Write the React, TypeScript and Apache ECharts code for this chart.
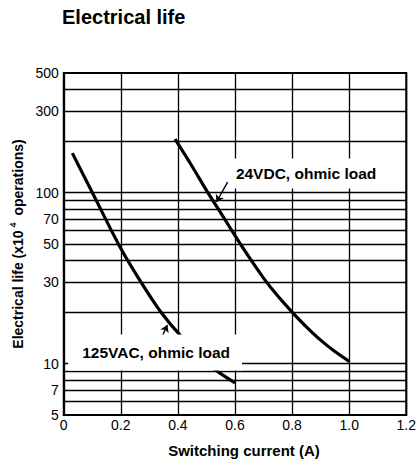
import React, { useEffect, useRef } from 'react';
import * as echarts from 'echarts';

const titleText = 'Electrical life';
const xAxisName = 'Switching current (A)';
const yAxisName = 'Electrical life (x10{sup|4} operations)';

const xMin = 0;
const xMax = 1.2;
const xInterval = 0.2;
const yMin = 5;
const yMax = 500;
const yLabelValues = [5, 7, 10, 30, 50, 70, 100, 300, 500];
const yGridValues = [6, 7, 8, 9, 10, 20, 30, 40, 50, 60, 70, 80, 90, 100, 200, 300, 400];

const vac125X = [0.03, 0.1, 0.2, 0.27, 0.34, 0.41, 0.52, 0.6];
const vac125Y = [170, 100, 47, 30, 20, 14.5, 9.5, 7.7];

const dc24X = [0.39, 0.45, 0.5, 0.55, 0.6, 0.65, 0.7, 0.75, 0.8, 0.85, 0.9, 0.95, 1.0];
const dc24Y = [205, 142, 103, 76, 56, 41.7, 31.6, 24.8, 20, 16.4, 13.7, 11.75, 10.3];

const dc24Label = '24VDC, ohmic load';
const dc24LabelAt = [0.849, 129];
const dc24Arrow = [[0.574, 115], [0.535, 88]];

const vac125Label = '125VAC, ohmic load';
const vac125LabelAt = [0.32, 11.6];
const vac125Arrow = [[0.343, 14.2], [0.363, 16.8]];

const FONT = "'Liberation Sans', Arial, sans-serif";
const NARROW = "'Liberation Sans Narrow', 'Liberation Sans', Arial, sans-serif";

function zip(xs: number[], ys: number[]) {
  return xs.map((x, i) => [x, ys[i]]);
}

export default function App() {
  const ref = useRef<HTMLDivElement>(null);
  useEffect(() => {
    document.body.style.margin = '0';
    if (!ref.current) return;
    const chart = echarts.init(ref.current, null, { renderer: 'svg' });
    const curveStyle = { color: '#000', width: 3.2 };
    const labelStyle = {
      show: true,
      position: 'inside',
      color: '#000',
      opacity: 1,
      fontFamily: FONT,
      fontWeight: 'bold',
      fontSize: 15.5,
      backgroundColor: '#ffffff',
    };
    chart.setOption({
      animation: false,
      backgroundColor: '#fff',
      title: {
        text: titleText,
        left: 62,
        top: 7,
        padding: 0,
        textStyle: { fontFamily: FONT, fontWeight: 'bold', fontSize: 20, color: '#000' },
      },
      grid: {
        left: 63,
        right: 11,
        top: 73,
        bottom: 53,
        show: true,
        borderColor: '#000',
        borderWidth: 2,
        backgroundColor: 'transparent',
      },
      xAxis: {
        type: 'value',
        min: xMin,
        max: xMax,
        interval: xInterval,
        name: xAxisName,
        nameLocation: 'middle',
        nameGap: 28,
        nameTextStyle: {
          fontFamily: FONT,
          fontWeight: 'bold',
          fontSize: 15,
          color: '#000',
          padding: [0, 0, 0, 18],
        },
        axisLine: { show: true, lineStyle: { color: '#000', width: 2 } },
        axisTick: { show: false },
        axisLabel: {
          margin: 3,
          fontFamily: NARROW,
          fontSize: 14,
          color: '#000',
          formatter: (v: number) => (v === 0 ? '0' : v.toFixed(1)),
        },
        splitLine: { show: true, lineStyle: { color: '#000', width: 1.3 } },
      },
      yAxis: {
        type: 'log',
        logBase: 10,
        min: yMin,
        max: yMax,
        name: yAxisName,
        nameLocation: 'middle',
        nameGap: 27,
        nameRotate: 90,
        nameTextStyle: {
          fontFamily: FONT,
          fontWeight: 'bold',
          fontSize: 14,
          color: '#000',
          rich: {
            sup: { fontFamily: FONT, fontWeight: 'bold', fontSize: 9, color: '#000', padding: [0, 3, 10, 3] },
          },
        },
        axisLine: { show: true, lineStyle: { color: '#000', width: 2 } },
        axisTick: { show: false },
        axisLabel: {
          margin: 5,
          fontFamily: NARROW,
          fontSize: 14,
          color: '#000',
          customValues: yLabelValues,
        },
        splitLine: { show: false },
      },
      series: [
        {
          type: 'line',
          data: [],
          silent: true,
          markLine: {
            silent: true,
            symbol: 'none',
            label: { show: false },
            lineStyle: { color: '#000', width: 1.3, type: 'solid' },
            data: yGridValues.map((v) => ({ yAxis: v })),
          },
        },
        {
          type: 'line',
          data: [],
          silent: true,
          markLine: {
            silent: true,
            symbol: ['none', 'arrow'],
            symbolSize: 7,
            label: { show: false },
            lineStyle: { color: '#000', width: 1.4, type: 'solid' },
            data: [
              [{ coord: dc24Arrow[0] }, { coord: dc24Arrow[1] }],
              [{ coord: vac125Arrow[0] }, { coord: vac125Arrow[1] }],
            ],
          },
        },
        {
          name: '125VAC',
          type: 'line',
          data: zip(vac125X, vac125Y),
          smooth: 0.3,
          showSymbol: false,
          symbol: 'none',
          lineStyle: curveStyle,
          z: 3,
        },
        {
          name: '24VDC',
          type: 'line',
          data: zip(dc24X, dc24Y),
          smooth: 0.3,
          showSymbol: false,
          symbol: 'none',
          lineStyle: curveStyle,
          z: 3,
        },
        {
          type: 'scatter',
          z: 10,
          silent: true,
          symbolSize: 0,
          itemStyle: { opacity: 1 },
          emphasis: { disabled: true },
          data: [
            {
              value: dc24LabelAt,
              label: { ...labelStyle, formatter: dc24Label, padding: [7, 3, 7, 3] },
            },
            {
              value: vac125LabelAt,
              label: { ...labelStyle, formatter: vac125Label, padding: [10, 12, 10, 14] },
            },
          ],
        },
      ],
    });
    return () => chart.dispose();
  }, []);
  return <div ref={ref} style={{ width: 419, height: 468 }} />;
}
